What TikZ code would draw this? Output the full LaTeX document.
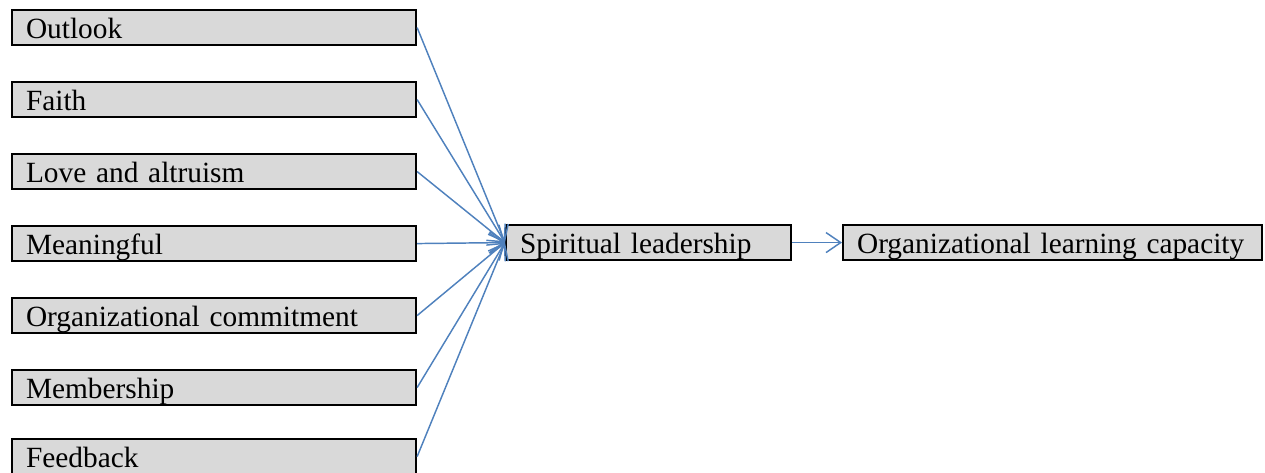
\documentclass[tikz,border=0pt]{standalone}
\usepackage{fontspec}
\setmainfont{Liberation Serif}
\usetikzlibrary{arrows.meta}
\definecolor{boxgray}{HTML}{D9D9D9}
\definecolor{arrowblue}{HTML}{4F81BD}
\tikzset{
  box/.style={draw=black, line width=1.6pt, fill=boxgray, anchor=north west,
    inner xsep=10.5pt, inner ysep=0pt, text height=21pt, text depth=5.25pt,
    align=left, font=\fontsize{22}{24}\selectfont},
  leftbox/.style={box, text width=282pt},
  link/.style={draw=arrowblue, line width=1.1pt, -{Straight Barb[length=11pt,width=15pt]}}
}
\begin{document}
\begin{tikzpicture}[x=0.75pt, y=-0.75pt]
\useasboundingbox (0,0) rectangle (1265,472);
\node[leftbox] (o) at (11,9) {Outlook};
\node[leftbox] (f) at (11,81) {Faith};
\node[leftbox] (l) at (11,153) {Love and altruism};
\node[leftbox] (m) at (11,225) {Meaningful};
\node[leftbox] (c) at (11,297) {Organizational commitment};
\node[leftbox] (ms) at (11,369) {Membership};
\node[leftbox] (fb) at (11,438) {Feedback};
\node[box, text width=192.75pt] (sl) at (505,224) {Spiritual leadership};
\node[box, text width=293.25pt] (olc) at (842,224) {Organizational learning capacity};
\foreach \n in {o,f,l,m,c,ms,fb} \draw[link] (\n.east) -- (sl.west);
\draw[link] (sl.east) -- (olc.west);
\end{tikzpicture}
\end{document}
